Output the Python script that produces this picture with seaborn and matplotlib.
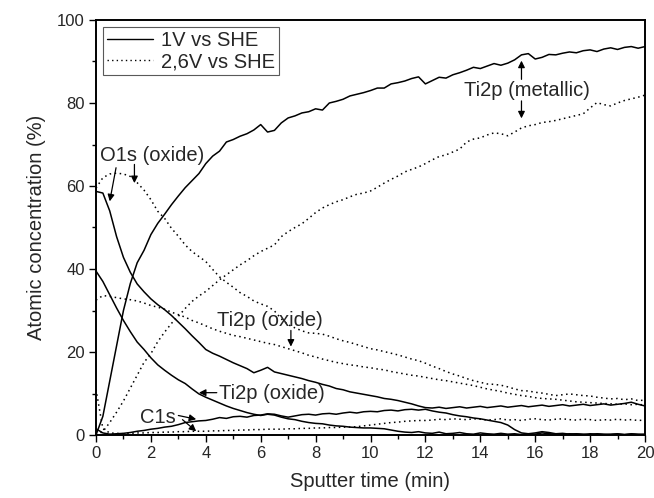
import numpy as np
import pandas as pd
import matplotlib
matplotlib.use("Agg")
import matplotlib.pyplot as plt
import seaborn as sns
from matplotlib.lines import Line2D
from matplotlib.ticker import MultipleLocator

# sputter time (min), one reading every 0.25 min
time_min = np.arange(81) * 0.25

# 1V vs SHE (solid lines)
ti_metal_1v = [0, 4.5, 13, 21.5, 30, 36.5, 41.5, 44.5, 48.3, 51,
               53.2, 55.5, 57.6, 59.6, 61.3, 63, 65.4, 67.2, 68.4, 70.6,
               71.2, 72.0, 72.6, 73.5, 74.8, 73.0, 73.4, 75.2, 76.4, 76.9,
               77.6, 77.9, 78.6, 78.3, 80.0, 80.4, 80.9, 81.7, 82.1, 82.5,
               83.0, 83.6, 83.6, 84.6, 84.9, 85.3, 85.9, 86.3, 84.6, 85.4,
               86.2, 86.0, 86.8, 87.3, 87.9, 88.6, 88.3, 88.9, 89.5, 89.1,
               89.6, 90.4, 91.6, 91.9, 90.6, 91.0, 91.7, 91.6, 92.0, 92.3,
               92.1, 92.6, 92.8, 92.4, 93.0, 93.3, 92.9, 93.4, 93.6, 93.2,
               93.6]
o1s_1v = [58.7, 58.3, 54.0, 47.8, 42.8, 39.2, 36.4, 34.5, 32.8, 31.4,
          30.2, 28.8, 27.2, 25.6, 23.9, 22.3, 20.6, 19.7, 19.0, 18.2,
          17.4, 16.7, 16.0, 15.0, 15.6, 16.3, 15.2, 14.8, 14.4, 14.0,
          13.6, 13.1, 12.7, 12.2, 11.8, 11.2, 10.9, 10.4, 10.1, 9.8,
          9.5, 9.2, 8.8, 8.6, 8.3, 7.9, 7.5, 7.0, 6.6, 6.5,
          6.7, 6.4, 6.6, 6.8, 6.5, 6.7, 6.9, 6.6, 6.8, 7.0,
          6.7, 6.9, 7.1, 6.8, 7.0, 7.2, 6.9, 7.1, 7.3, 7.0,
          7.2, 7.4, 7.1, 7.3, 7.5, 7.2, 7.4, 7.6, 7.9, 7.4,
          7.0]
ti_oxide_1v = [39.5, 37.0, 33.8, 30.6, 27.6, 24.9, 22.4, 20.6, 18.6, 16.9,
               15.6, 14.4, 13.3, 12.4, 11.1, 9.9, 9.1, 8.4, 7.7, 7.0,
               6.4, 5.9, 5.4, 5.0, 4.7, 5.0, 4.8, 4.3, 3.9, 3.7,
               3.3, 3.0, 2.8, 2.7, 2.4, 2.2, 2.1, 1.9, 1.8, 1.7,
               1.7, 1.6, 1.5, 1.2, 0.9, 0.7, 0.6, 0.8, 0.5, 0.4,
               0.7, 0.3, 0.4, 0.6, 0.3, 0.2, 0.5, 0.3, 0.2, 0.4,
               0.2, 0.3, 0.1, 0.3, 0.2, 0.5, 0.3, 0.2, 0.1, 0.3,
               0.2, 0.1, 0.3, 0.2, 0.1, 0.2, 0.3, 0.1, 0.2, 0.1,
               0.2]
c1s_1v = [1.5, 0.5, 0.2, 0.3, 0.4, 0.6, 0.9, 1.1, 1.4, 1.6,
          1.9, 2.1, 2.5, 3.0, 3.2, 3.4, 3.5, 3.8, 4.2, 4.0,
          4.4, 4.5, 4.3, 4.7, 4.8, 5.1, 5.0, 4.6, 4.3, 4.6,
          4.9, 5.0, 4.8, 5.1, 5.2, 5.0, 5.3, 5.5, 5.3, 5.6,
          5.7, 5.6, 5.9, 6.0, 5.8, 6.1, 6.2, 6.0, 6.2, 5.8,
          5.5, 5.3, 4.9, 4.6, 4.4, 4.1, 3.9, 3.6, 3.3, 3.0,
          2.4, 1.3, 0.5, 0.3, 0.5, 0.8, 0.6, 0.3, 0.4, 0.2,
          0.3, 0.2, 0.1, 0.3, 0.2, 0.1, 0.2, 0.1, 0.3, 0.2,
          0.1]

# 2,6V vs SHE (dotted lines)
ti_metal_26v = [0, 0.8, 3.0, 5.5, 8.2, 11.3, 14.4, 17.5, 19.6, 22.5,
                24.8, 26.9, 28.6, 30.5, 32.2, 33.5, 34.6, 36.0, 37.4, 38.6,
                39.8, 41.0, 42.0, 43.2, 44.2, 45.0, 45.8, 47.8, 49.0, 50.0,
                50.9, 52.2, 53.6, 54.7, 55.5, 56.2, 56.7, 57.4, 58.0, 58.3,
                58.8, 59.7, 60.7, 61.6, 62.4, 63.4, 64.0, 64.6, 65.4, 66.3,
                67.1, 67.5, 68.2, 68.9, 70.6, 71.3, 71.6, 72.3, 72.8, 72.6,
                72.1, 73.0, 74.0, 74.5, 74.8, 75.3, 75.5, 75.8, 76.2, 76.6,
                77.0, 77.4, 78.8, 80.1, 79.6, 79.3, 80.0, 80.6, 81.0, 81.4,
                81.9]
o1s_26v = [59.5, 62.0, 62.9, 63.1, 62.9, 62.3, 60.8, 59.0, 56.7, 53.9,
           52.2, 49.8, 47.9, 45.8, 44.2, 43.0, 41.8, 39.9, 38.1, 36.8,
           35.6, 34.3, 33.4, 32.3, 31.6, 31.0, 29.9, 28.0, 26.6, 25.8,
           25.1, 24.6, 24.5, 24.3, 23.8, 23.2, 22.7, 22.3, 21.8, 21.3,
           20.8, 20.5, 20.1, 19.7, 19.3, 18.8, 18.3, 17.9, 17.3, 16.6,
           16.0, 15.3, 14.7, 14.2, 13.6, 13.1, 12.7, 12.3, 12.2, 12.0,
           11.6, 11.1, 10.7, 10.6, 10.3, 10.1, 9.8, 9.5, 9.7, 9.9,
           9.7, 9.5, 9.4, 9.1, 8.9, 8.7, 8.8, 8.5, 8.7, 8.3,
           8.4]
ti_oxide_26v = [32.5, 33.6, 33.4, 33.1, 32.8, 32.6, 32.3, 31.8, 31.2, 30.8,
                30.3, 29.6, 29.0, 28.4, 27.6, 27.0, 26.3, 25.6, 25.0, 24.5,
                24.0, 23.7, 23.3, 22.9, 22.5, 22.1, 21.8, 21.3, 20.8, 20.3,
                19.8, 19.2, 18.8, 18.3, 17.9, 17.5, 17.2, 16.9, 16.7, 16.4,
                16.2, 15.9, 15.7, 15.3, 15.0, 14.7, 14.4, 14.2, 13.9, 13.6,
                13.3, 13.1, 12.8, 12.5, 12.2, 11.9, 11.5, 11.1, 10.8, 10.5,
                10.1, 9.8, 9.5, 9.3, 9.0, 8.8, 8.7, 8.6, 8.4, 8.2,
                8.0, 7.9, 7.8, 7.7, 7.6, 7.5, 7.4, 7.5, 7.3, 7.4,
                7.2]
c1s_26v = [11.0, 1.5, 0.5, 0.4, 0.3, 0.4, 0.5, 0.5, 0.6, 0.6,
           0.7, 0.7, 0.8, 0.8, 0.9, 0.9, 0.9, 1.0, 1.0, 1.1,
           1.1, 1.2, 1.2, 1.3, 1.3, 1.4, 1.4, 1.4, 1.5, 1.5,
           1.6, 1.6, 1.7, 1.7, 1.8, 1.8, 1.9, 1.9, 2.0, 2.2,
           2.4, 2.6, 2.8, 3.0, 3.1, 3.3, 3.4, 3.5, 3.5, 3.6,
           3.8, 3.7, 3.9, 3.8, 3.7, 3.9, 3.8, 3.6, 3.7, 3.9,
           3.6, 3.7, 3.5, 3.8, 3.9, 3.7, 3.6, 3.8, 3.9, 3.7,
           3.6, 3.8, 3.7, 3.5, 3.7, 3.6, 3.8, 3.6, 3.7, 3.5,
           3.6]

potentials = ["1V vs SHE", "2,6V vs SHE"]
series = {
    ("Ti2p metallic", potentials[0]): ti_metal_1v,
    ("O1s", potentials[0]): o1s_1v,
    ("Ti2p oxide", potentials[0]): ti_oxide_1v,
    ("C1s", potentials[0]): c1s_1v,
    ("Ti2p metallic", potentials[1]): ti_metal_26v,
    ("O1s", potentials[1]): o1s_26v,
    ("Ti2p oxide", potentials[1]): ti_oxide_26v,
    ("C1s", potentials[1]): c1s_26v,
}

frames = []
for (peak, pot), vals in series.items():
    frames.append(pd.DataFrame({"time": time_min, "conc": vals,
                                "peak": peak, "potential": pot}))
df = pd.concat(frames, ignore_index=True)

sns.set_theme(style="ticks")
plt.rcParams["font.family"] = ["Liberation Sans", "DejaVu Sans"]

dot = (1, 2.3)
fig, ax = plt.subplots(figsize=(6.54, 4.98), dpi=100)
fig.subplots_adjust(left=96 / 654, right=645 / 654, bottom=63 / 498, top=478 / 498)

sns.lineplot(data=df, x="time", y="conc", units="peak", style="potential",
             estimator=None, sort=False, color="black", linewidth=1.1,
             dashes={potentials[0]: "", potentials[1]: dot},
             legend=False, ax=ax)

ax.set_xlim(0, 20)
ax.set_ylim(0, 100)
ax.xaxis.set_major_locator(MultipleLocator(2))
ax.xaxis.set_minor_locator(MultipleLocator(1))
ax.yaxis.set_major_locator(MultipleLocator(20))
ax.yaxis.set_minor_locator(MultipleLocator(10))
ax.tick_params(which="both", direction="out", top=False, right=False,
               color="black", width=1.0)
ax.tick_params(which="major", length=5, labelsize=12, pad=3)
ax.tick_params(which="minor", length=3)
for sp in ax.spines.values():
    sp.set_visible(True)
    sp.set_color("black")
    sp.set_linewidth(1.4)

ax.set_xlabel("Sputter time (min)", fontsize=14.5, labelpad=8)
ax.set_ylabel("Atomic concentration (%)", fontsize=14.5, labelpad=8)

handles = [Line2D([], [], color="black", lw=1.0, label=potentials[0]),
           Line2D([], [], color="black", lw=1.0, ls=(0, dot), label=potentials[1])]
leg = ax.legend(handles=handles, loc="upper left", fontsize=14.5,
                frameon=True, fancybox=False, framealpha=1, edgecolor="0.35",
                handlelength=2.3, handletextpad=0.4, borderpad=0.2,
                labelspacing=0.1, borderaxespad=0.35)
leg.get_frame().set_linewidth(0.8)

arrow = dict(arrowstyle="-|>", color="black", lw=0.9, mutation_scale=10,
             shrinkA=0, shrinkB=0)
fs = 14.5

ax.text(2.05, 67.3, "O1s (oxide)", fontsize=fs, ha="center", va="center")
ax.annotate("", xy=(0.5, 56.3), xytext=(0.73, 64.4), arrowprops=arrow)
ax.annotate("", xy=(1.4, 60.7), xytext=(1.4, 65.2), arrowprops=arrow)

ax.text(15.7, 83.0, "Ti2p (metallic)", fontsize=fs, ha="center", va="center")
ax.annotate("", xy=(15.5, 90.2), xytext=(15.5, 85.7), arrowprops=arrow)
ax.annotate("", xy=(15.5, 76.3), xytext=(15.5, 80.5), arrowprops=arrow)

ax.text(6.35, 27.7, "Ti2p (oxide)", fontsize=fs, ha="center", va="center")
ax.annotate("", xy=(7.1, 21.3), xytext=(7.1, 25.2), arrowprops=arrow)

ax.text(6.4, 9.9, "Ti2p (oxide)", fontsize=fs, ha="center", va="center")
ax.annotate("", xy=(3.75, 10.2), xytext=(4.4, 10.2), arrowprops=arrow)

ax.text(2.25, 4.3, "C1s", fontsize=fs, ha="center", va="center")
ax.annotate("", xy=(3.65, 3.8), xytext=(3.0, 4.7), arrowprops=arrow)
ax.annotate("", xy=(3.65, 0.9), xytext=(3.15, 3.7), arrowprops=arrow)

fig.savefig("out.png", dpi=100, facecolor="white")
